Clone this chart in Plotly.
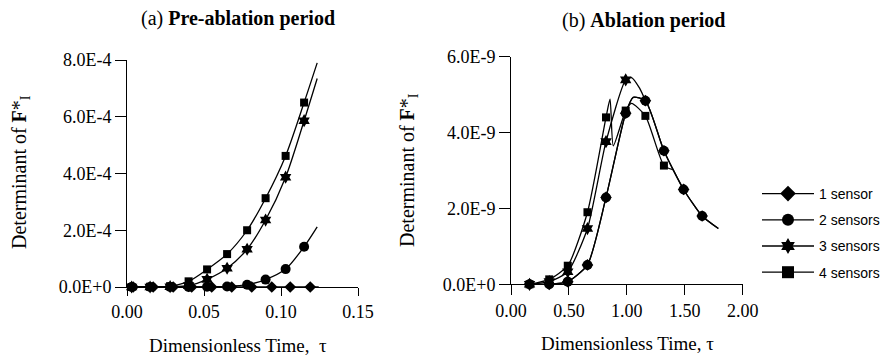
import plotly.graph_objects as go

# ---------------- data ----------------
# (a) Pre-ablation period, values in units of 1E-4
tau_a = [0.003, 0.015, 0.028, 0.040, 0.052, 0.065, 0.078, 0.090, 0.103, 0.115]
tau_a_d = [0.004, 0.017, 0.030, 0.042, 0.055, 0.068, 0.081, 0.094, 0.106, 0.119]
det_a_1 = [0, 0, 0, 0, 0, 0, 0, 0, 0, 0]
det_a_2 = [0, 0, 0, 0, 0.01, 0.02, 0.08, 0.26, 0.63, 1.42]
det_a_3 = [0, 0, 0.01, 0.05, 0.27, 0.66, 1.33, 2.36, 3.87, 5.86]
det_a_4 = [0, 0.01, 0.03, 0.20, 0.62, 1.16, 2.00, 3.13, 4.62, 6.50]
# curve continuation points (no symbol)
knot_a_1 = ([0.1245], [0.0])
knot_a_2 = ([0.1235], [2.12])
knot_a_3 = ([0.1235], [7.35])
knot_a_4 = ([0.1235], [7.90])

# (b) Ablation period, values in units of 1E-9
tau_b = [0.16, 0.33, 0.49, 0.66, 0.82, 0.99, 1.16, 1.32, 1.49, 1.65]
det_b_1 = [0, 0, 0.07, 0.51, 2.29, 4.51, 4.84, 3.52, 2.50, 1.80]
det_b_2 = [0, 0, 0.07, 0.51, 2.29, 4.51, 4.84, 3.52, 2.50, 1.80]
det_b_3 = [0, 0.07, 0.33, 1.47, 3.76, 5.39]
det_b_4 = [0, 0.13, 0.49, 1.90, 4.40, 4.58, 4.44, 3.13]
knot_b_1 = ([1.055, 1.79], [4.93, 1.47])
knot_b_2 = ([1.055, 1.79], [4.93, 1.47])
knot_b_3 = ([1.04, 1.11, 1.16], [5.45, 5.17, 4.84])
knot_b_4 = ([0.855, 0.883, 1.04, 1.40], [4.88, 3.65, 4.77, 3.02])

names = ["1 sensor", "2 sensors", "3 sensors", "4 sensors"]
symbols = ["diamond", "circle", "hexagram", "square"]
sizes = [9, 10, 10, 8]

xticks_a = [0.00, 0.05, 0.10, 0.15]
xticktext_a = ["0.00", "0.05", "0.10", "0.15"]
yticks_a = [0, 2e-4, 4e-4, 6e-4, 8e-4]
yticktext_a = ["0.0E+0", "2.0E-4", "4.0E-4", "6.0E-4", "8.0E-4"]
xticks_b = [0.0, 0.5, 1.0, 1.5, 2.0]
xticktext_b = ["0.00", "0.50", "1.00", "1.50", "2.00"]
yticks_b = [0, 2e-9, 4e-9, 6e-9]
yticktext_b = ["0.0E+0", "2.0E-9", "4.0E-9", "6.0E-9"]

W, H = 890, 358


def merged(xs, ys, knots, scale, msize):
    pts = [(x, y * scale, msize) for x, y in zip(xs, ys)]
    pts += [(x, y * scale, 0) for x, y in zip(knots[0], knots[1])]
    pts.sort(key=lambda p: p[0])
    return [p[0] for p in pts], [p[1] for p in pts], [p[2] for p in pts]


fig = go.Figure()

series_a = [
    (tau_a_d, det_a_1, knot_a_1),
    (tau_a[:len(det_a_2)], det_a_2, knot_a_2),
    (tau_a[:len(det_a_3)], det_a_3, knot_a_3),
    (tau_a[:len(det_a_4)], det_a_4, knot_a_4),
]
series_b = [
    (tau_b[:len(det_b_1)], det_b_1, knot_b_1),
    (tau_b[:len(det_b_2)], det_b_2, knot_b_2),
    (tau_b[:len(det_b_3)], det_b_3, knot_b_3),
    (tau_b[:len(det_b_4)], det_b_4, knot_b_4),
]

draw_order = [0, 3, 2, 1]
for i in draw_order:
    xs, ys, kn = series_a[i]
    x, y, s = merged(xs, ys, kn, 1e-4, sizes[i])
    fig.add_trace(go.Scatter(
        x=x, y=y, mode="lines+markers", xaxis="x", yaxis="y",
        line=dict(color="black", width=1.3, shape="spline", smoothing=0.8),
        marker=dict(symbol=symbols[i], size=s, color="black", opacity=1,
                    line=dict(width=0)),
        cliponaxis=False, showlegend=False, name=names[i]))

for i in draw_order:
    xs, ys, kn = series_b[i]
    x, y, s = merged(xs, ys, kn, 1e-9, sizes[i])
    fig.add_trace(go.Scatter(
        x=x, y=y, mode="lines+markers", xaxis="x2", yaxis="y2",
        line=dict(color="black", width=1.3, shape="spline", smoothing=0.6),
        marker=dict(symbol=symbols[i], size=s, color="black", opacity=1,
                    line=dict(width=0)),
        cliponaxis=False, showlegend=False, name=names[i]))

# legend entries
for i in range(4):
    fig.add_trace(go.Scatter(
        x=[None], y=[None], mode="lines+markers", xaxis="x2", yaxis="y2",
        line=dict(color="black", width=1.3),
        marker=dict(symbol=symbols[i], size=12, color="black", line=dict(width=0)),
        name=names[i], legendgroup=names[i], showlegend=True))


def px(v):
    return v / W


def py(v):
    return 1 - v / H


axis_common = dict(showgrid=False, zeroline=False, showline=True, linecolor="black",
                   linewidth=1, ticks="outside", tickcolor="black", tickwidth=1,
                   automargin=False,
                   tickfont=dict(family="Liberation Serif", size=18, color="black"))

fig.update_layout(
    width=W, height=H, margin=dict(l=0, r=0, t=0, b=0, autoexpand=False),
    plot_bgcolor="white", paper_bgcolor="white",
    xaxis=dict(domain=[px(127), px(358)], range=[0, 0.15], tickvals=xticks_a,
               ticktext=xticktext_a, ticklen=8, anchor="y", **axis_common),
    yaxis=dict(domain=[py(287), py(60)], range=[0, 8e-4], tickvals=yticks_a,
               ticktext=yticktext_a, ticklen=11, anchor="x", **axis_common),
    xaxis2=dict(domain=[px(511), px(742.7)], range=[0, 2.0], tickvals=xticks_b,
                ticktext=xticktext_b, ticklen=10, anchor="y2", **axis_common),
    yaxis2=dict(domain=[py(284.3), py(56.7)], range=[0, 6e-9], tickvals=yticks_b,
                ticktext=yticktext_b, ticklen=11, anchor="x2", **axis_common),
    legend=dict(x=px(757), y=py(178), xanchor="left", yanchor="top",
                font=dict(family="Liberation Sans", size=14, color="black"),
                tracegroupgap=5, bgcolor="rgba(0,0,0,0)", itemwidth=52),
)

ann_font = dict(family="Liberation Serif", size=20, color="black")
annotations = [
    dict(text="(a) <b>Pre-ablation period</b>", x=px(238), y=py(18)),
    dict(text="(b) <b>Ablation period</b>", x=px(643), y=py(20)),
    dict(text="Dimensionless Time,  \u03c4", x=px(238), y=py(345), font_size=19),
    dict(text="Dimensionless Time, \u03c4", x=px(627), y=py(343), font_size=19),
    dict(text="Determinant of <b>F</b>*<sub>I</sub>", x=px(20), y=py(172), textangle=-90),
    dict(text="Determinant of <b>F</b>*<sub>I</sub>", x=px(408), y=py(170), textangle=-90),
]
for a in annotations:
    fs = a.pop("font_size", 20)
    a.update(xref="paper", yref="paper", showarrow=False,
             font=dict(ann_font, size=fs), xanchor="center", yanchor="middle")
fig.update_layout(annotations=annotations)

fig.write_html("out.html", config={"displayModeBar": False},
               post_script="document.body.style.margin='0';document.body.style.overflow='hidden';")
